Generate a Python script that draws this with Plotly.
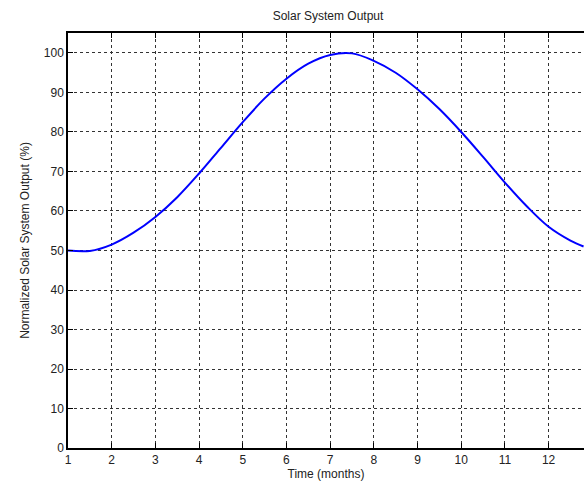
import plotly.graph_objects as go

months = [1.0, 1.5, 2.0, 2.5, 3.0, 3.5, 4.0, 4.5, 5.0, 5.5, 6.0, 6.5, 7.0, 7.5,
          8.0, 8.5, 9.0, 9.5, 10.0, 10.5, 11.0, 11.5, 12.0, 12.5, 12.8]
output_pct = [50.0, 49.9, 51.5, 54.5, 58.5, 63.5, 69.5, 76.0, 82.5, 88.5, 93.5, 97.3,
              99.5, 99.9, 98.0, 95.0, 90.8, 85.8, 80.0, 73.7, 67.2, 61.2, 56.0, 52.5, 51.0]
x_ticks = list(range(1, 13))
y_ticks = list(range(0, 101, 10))

fig = go.Figure()
fig.add_trace(go.Scatter(x=months, y=output_pct, mode="lines",
                         line=dict(color="#0000ff", width=2, shape="spline"),
                         showlegend=False))

font = dict(family="Liberation Sans, Arial, sans-serif", size=12, color="#222")
axis_common = dict(showline=True, linecolor="#000", linewidth=1.5,
                   ticks="inside", ticklen=5, tickcolor="#000",
                   showgrid=True, gridcolor="#333", gridwidth=1, griddash="3px,3px",
                   zeroline=False, tickfont=font, automargin=False)

fig.update_layout(
    width=584, height=492,
    margin=dict(l=68, r=0, t=33, b=44, autoexpand=False),
    paper_bgcolor="white", plot_bgcolor="white",
    font=font,
    title=dict(text="Solar System Output", x=328/584, xref="container", xanchor="center",
               y=1 - 16/492, yanchor="middle", automargin=False,
               font=dict(size=12, color="#222")),
    xaxis=dict(range=[1, 12.81], tickvals=x_ticks, ticktext=[str(v) for v in x_ticks],
               mirror="ticks",
               title=dict(text="Time (months)", standoff=3, font=font), **axis_common),
    yaxis=dict(range=[0, 105.06], tickvals=y_ticks, mirror=False,
               title=dict(text="Normalized Solar System Output (%)", standoff=12, font=font),
               **axis_common),
)

fig.write_html("out.html",
               config={"displayModeBar": False},
               post_script="document.body.style.margin='0';document.body.style.overflow='hidden';")
